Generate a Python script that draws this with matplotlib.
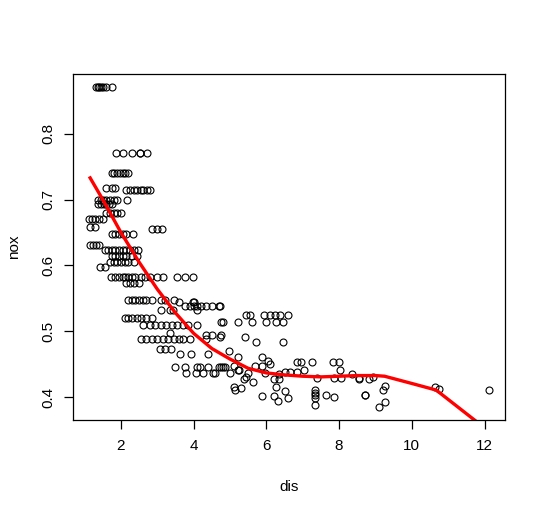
import matplotlib
matplotlib.use("Agg")
import matplotlib.pyplot as plt

plt.rcParams['font.family'] = ['Liberation Sans', 'DejaVu Sans']

# Scatter data (dis, nox), grouped by nox level
dis = [
    1.32, 1.36, 1.41, 1.46, 1.52, 1.60, 1.75,
    1.87, 2.07, 2.30, 2.52, 2.52, 2.72,
    1.76, 1.82, 1.90, 1.97, 2.05, 2.12, 2.20,
    1.60, 1.75, 1.85,
    2.15, 2.25, 2.35, 2.45, 2.55, 2.62, 2.72, 2.80,
    1.38, 1.45, 1.52, 1.60, 1.70, 1.80, 1.90, 2.16,
    1.38, 1.45, 1.53, 1.60, 1.67, 1.75,
    1.60, 1.70, 1.80, 1.90, 2.00,
    1.13, 1.20, 1.30, 1.40, 1.50,
    1.16, 1.30,
    2.85, 2.98, 3.12,
    1.75, 1.85, 1.95, 2.05, 2.15, 2.33,
    1.15, 1.22, 1.32, 1.40,
    1.55, 1.65, 1.75, 1.85, 1.95, 2.05, 2.15, 2.25, 2.35, 2.47,
    1.75, 1.85, 1.95, 2.05, 2.15, 2.30, 2.45,
    1.70, 1.80, 1.90, 2.00, 2.10, 2.20, 2.35,
    1.42, 1.55,
    1.72, 1.85, 1.95, 2.05, 2.12, 2.20, 2.30, 2.40, 2.55, 2.65, 2.80, 3.00, 3.16, 3.53, 3.76, 3.99,
    2.15, 2.25, 2.35, 2.50,
    2.20, 2.30, 2.40, 2.50, 2.60, 2.70, 2.85, 3.10, 3.20, 3.45,
    3.60, 3.99, 4.00,
    3.76, 3.90, 4.00, 4.10, 4.20, 4.35, 4.50, 4.69, 4.73,
    3.09, 3.35, 3.44, 4.10,
    2.10, 2.20, 2.30, 2.45, 2.55, 2.70, 2.85,
    5.44, 5.56, 5.93, 6.09, 6.23, 6.37, 6.60,
    4.82, 5.22, 5.61, 6.00, 6.27, 6.47, 4.76,
    2.60, 2.80, 2.95, 3.10, 3.25, 3.40, 3.55, 3.70, 3.85, 4.10,
    3.35,
    4.35, 4.50, 4.76,
    4.73, 5.42,
    2.55, 2.70, 2.85, 3.00, 3.15, 3.30, 3.45, 3.60, 3.72, 3.90, 4.35,
    5.72, 6.47,
    3.07, 3.20, 3.38,
    4.98,
    3.62, 3.94, 4.40,
    5.22, 5.89,
    6.05,
    6.83, 6.94, 7.25, 7.82, 8.00,
    6.09,
    3.48, 3.76, 4.10, 4.17, 4.40, 4.76, 4.69, 4.80, 4.87,
    5.10, 5.70, 5.87,
    5.22, 5.26, 7.04, 8.02,
    3.80, 4.06, 4.27, 4.54, 5.01, 5.50, 5.96, 4.60,
    6.51, 6.64, 6.83,
    6.35, 8.35,
    5.44, 8.92,
    7.40, 7.87, 8.05, 8.54,
    5.38, 6.20, 6.35, 8.54, 8.81,
    5.64,
    9.25,
    5.10, 6.27,
    10.63,
    5.29,
    10.75,
    5.13, 7.33, 9.20, 12.13,
    6.51,
    7.33,
    8.71,
    7.33, 7.65, 8.71,
    5.89, 6.21,
    7.85,
    6.60, 7.33,
    6.33,
    9.25,
    7.33,
    9.09,
]
nox = [
    0.871, 0.871, 0.871, 0.871, 0.871, 0.871, 0.871,
    0.770, 0.770, 0.770, 0.770, 0.770, 0.770,
    0.740, 0.740, 0.740, 0.740, 0.740, 0.740, 0.740,
    0.718, 0.718, 0.718,
    0.714, 0.714, 0.714, 0.714, 0.714, 0.714, 0.714, 0.714,
    0.700, 0.700, 0.700, 0.700, 0.700, 0.700, 0.700, 0.700,
    0.693, 0.693, 0.693, 0.693, 0.693, 0.693,
    0.679, 0.679, 0.679, 0.679, 0.679,
    0.671, 0.671, 0.671, 0.671, 0.671,
    0.659, 0.659,
    0.655, 0.655, 0.655,
    0.647, 0.647, 0.647, 0.647, 0.647, 0.647,
    0.631, 0.631, 0.631, 0.631,
    0.624, 0.624, 0.624, 0.624, 0.624, 0.624, 0.624, 0.624, 0.624, 0.624,
    0.614, 0.614, 0.614, 0.614, 0.614, 0.614, 0.614,
    0.605, 0.605, 0.605, 0.605, 0.605, 0.605, 0.605,
    0.597, 0.597,
    0.583, 0.583, 0.583, 0.583, 0.583, 0.583, 0.583, 0.583, 0.583, 0.583, 0.583, 0.583, 0.583, 0.583, 0.583, 0.583,
    0.573, 0.573, 0.573, 0.573,
    0.547, 0.547, 0.547, 0.547, 0.547, 0.547, 0.547, 0.547, 0.547, 0.547,
    0.544, 0.544, 0.544,
    0.538, 0.538, 0.538, 0.538, 0.538, 0.538, 0.538, 0.538, 0.538,
    0.532, 0.532, 0.532, 0.532,
    0.520, 0.520, 0.520, 0.520, 0.520, 0.520, 0.520,
    0.525, 0.525, 0.525, 0.525, 0.525, 0.525, 0.525,
    0.515, 0.515, 0.515, 0.515, 0.515, 0.515, 0.515,
    0.510, 0.510, 0.510, 0.510, 0.510, 0.510, 0.510, 0.510, 0.510, 0.510,
    0.498,
    0.494, 0.494, 0.494,
    0.492, 0.492,
    0.489, 0.489, 0.489, 0.489, 0.489, 0.489, 0.489, 0.489, 0.489, 0.489, 0.489,
    0.484, 0.484,
    0.473, 0.473, 0.473,
    0.470,
    0.465, 0.465, 0.465,
    0.461, 0.461,
    0.455,
    0.453, 0.453, 0.453, 0.453, 0.453,
    0.450,
    0.446, 0.446, 0.446, 0.446, 0.446, 0.446, 0.446, 0.446, 0.446,
    0.448, 0.448, 0.448,
    0.442, 0.442, 0.442, 0.442,
    0.437, 0.437, 0.437, 0.437, 0.437, 0.437, 0.437, 0.437,
    0.438, 0.438, 0.438,
    0.436, 0.436,
    0.431, 0.431,
    0.430, 0.430, 0.430, 0.430,
    0.428, 0.428, 0.428, 0.428, 0.428,
    0.423,
    0.417,
    0.416, 0.416,
    0.415,
    0.414,
    0.412,
    0.411, 0.411, 0.411, 0.411,
    0.410,
    0.407,
    0.404,
    0.403, 0.403, 0.403,
    0.402, 0.402,
    0.400,
    0.399, 0.399,
    0.394,
    0.393,
    0.389,
    0.385,
]

# Fitted curve (red line)
fit_dis = [1.13, 1.5, 2.0, 2.5, 3.0, 3.5, 4.0, 4.5, 5.0, 5.5, 6.0, 6.5, 7.0,
           7.5, 8.0, 8.5, 9.0, 9.25, 10.0, 10.67, 12.13]
fit_nox = [0.735, 0.700, 0.650, 0.605, 0.564, 0.528, 0.497, 0.474, 0.458, 0.444,
           0.437, 0.434, 0.432, 0.431, 0.432, 0.433, 0.433, 0.432, 0.421, 0.411, 0.348]

x_ticks = [2, 4, 6, 8, 10, 12]
y_ticks = [0.4, 0.5, 0.6, 0.7, 0.8]

W, H = 543, 512
L, R, T, B = 73.3, 505.3, 74, 420

fig = plt.figure(figsize=(W / 100, H / 100), dpi=100)
ax = fig.add_axes([L / W, (H - B) / H, (R - L) / W, (B - T) / H])

ax.plot(dis, nox, linestyle='none', marker='o', markersize=5.0,
        markerfacecolor='none', markeredgecolor='black', markeredgewidth=0.8)
ax.plot(fit_dis, fit_nox, color='red', linewidth=2.4, solid_capstyle='butt')

ax.set_xlim(0.69, 12.57)
ax.set_ylim(0.3656, 0.8904)
ax.set_xticks(x_ticks)
ax.set_xticklabels([str(t) for t in x_ticks])
ax.set_yticks(y_ticks)
ax.set_yticklabels([f"{t:.1f}" for t in y_ticks], rotation=90, va='center')

for s in ax.spines.values():
    s.set_linewidth(0.9)
    s.set_color('black')
ax.tick_params(direction='out', length=6.7, width=0.9, labelsize=11, colors='black')
ax.tick_params(axis='x', pad=7)
ax.tick_params(axis='y', pad=6)

ax.set_xlabel('dis', fontsize=11)
ax.set_ylabel('nox', fontsize=11)
ax.xaxis.set_label_coords(0.5, -66.7 / (B - T))
ax.yaxis.set_label_coords(-59.3 / (R - L), 0.5)
ax.xaxis.label.set_va('center')
ax.yaxis.label.set_va('center')

fig.savefig('out.png', dpi=100)
